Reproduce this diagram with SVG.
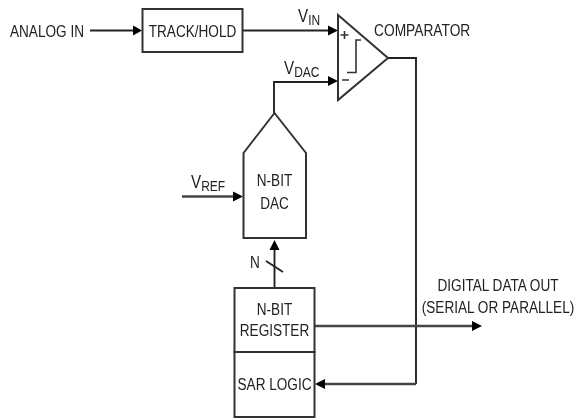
<svg xmlns="http://www.w3.org/2000/svg" width="574" height="419" viewBox="0 0 574 419">
<style>
text{font-family:"Liberation Sans",Arial,sans-serif;font-size:17px;fill:#222}
.m{text-anchor:middle}
.s{font-size:15px}
.v{font-size:19px}
.b{fill:#fff;stroke:#333;stroke-width:2}
.c{fill:none;stroke:#222;stroke-width:1.9}
.g{fill:none;stroke:#444;stroke-width:2.6}
.t{fill:none;stroke:#333;stroke-width:1.6}
.h{fill:#000}
</style>
<defs><filter id="soft" filterUnits="userSpaceOnUse" x="0" y="0" width="574" height="419"><feGaussianBlur stdDeviation="0.35"/></filter></defs>
<rect width="574" height="419" fill="#fff"/>
<g filter="url(#soft)">
<g id="connectors">
<path class="c" d="M90 30.500H135"/><path class="h" d="M133 25.500L142 30.500L133 35.500Z"/>
<path class="c" d="M243 30.500H331"/><path class="h" d="M328 25.500L338 30.500L328 35.500Z"/>
<path class="c" d="M274 113V82H331"/><path class="h" d="M328 76L338 81L328 86Z"/>
<path class="g" d="M182 196.500H236"/><path class="h" d="M233 191.500L243 196.500L233 201.500Z"/>
<path class="c" d="M274.500 288V246"/><path class="h" d="M269.500 250L274.500 240L279.500 250Z"/>
<path class="c" d="M266 261L283 272"/>
<path class="c" d="M388 58H416V384"/><path class="g" d="M416 384H322"/><path class="h" d="M325 379L315 384L325 389Z"/>
<path class="g" d="M315 326H474"/><path class="h" d="M472 321L482 326L472 331Z"/>
</g>
<g id="analog-in"><text transform="translate(10 37) scale(.8 1)">ANALOG IN</text></g>
<g id="track-hold"><rect class="b" x="142.500" y="9" width="100" height="43"/><text class="m" transform="translate(192.500 37) scale(.8 1)">TRACK/HOLD</text></g>
<g id="comparator">
<path class="b" d="M338 15L388 58L338 100Z"/>
<path class="t" d="M344.500 31V39M340.500 35H348.500M342 80H349M347 72.500H356V40H361"/>
<text transform="translate(374 36) scale(.81 1)">COMPARATOR</text>
</g>
<g id="dac"><path class="b" d="M243.500 153L274.500 113L306 153V238H243.500Z"/><text class="m" transform="translate(274.500 186) scale(.8 1)">N-BIT</text><text class="m" transform="translate(274.500 209) scale(.8 1)">DAC</text></g>
<g id="register"><rect class="b" x="234.500" y="288" width="80" height="64"/><text class="m" transform="translate(274.500 315) scale(.8 1)">N-BIT</text><text class="m" transform="translate(274.500 336) scale(.8 1)">REGISTER</text></g>
<g id="sar"><rect class="b" x="234.500" y="352" width="80" height="65"/><text class="m" transform="translate(274.500 390) scale(.8 1)">SAR LOGIC</text></g>
<g id="labels">
<text class="v" transform="translate(298 22) scale(.8 1)">V<tspan class="s" dy="3">IN</tspan></text>
<text class="v" transform="translate(284 74) scale(.8 1)">V<tspan class="s" dy="3">DAC</tspan></text>
<text class="v" transform="translate(191 188) scale(.8 1)">V<tspan class="s" dy="3">REF</tspan></text>
<text transform="translate(250 268) scale(.8 1)">N</text>
<text class="m" transform="translate(498 291) scale(.8 1)">DIGITAL DATA OUT</text>
<text class="m" transform="translate(498 313) scale(.8 1)">(SERIAL OR PARALLEL)</text>
</g>
</g>
</svg>
